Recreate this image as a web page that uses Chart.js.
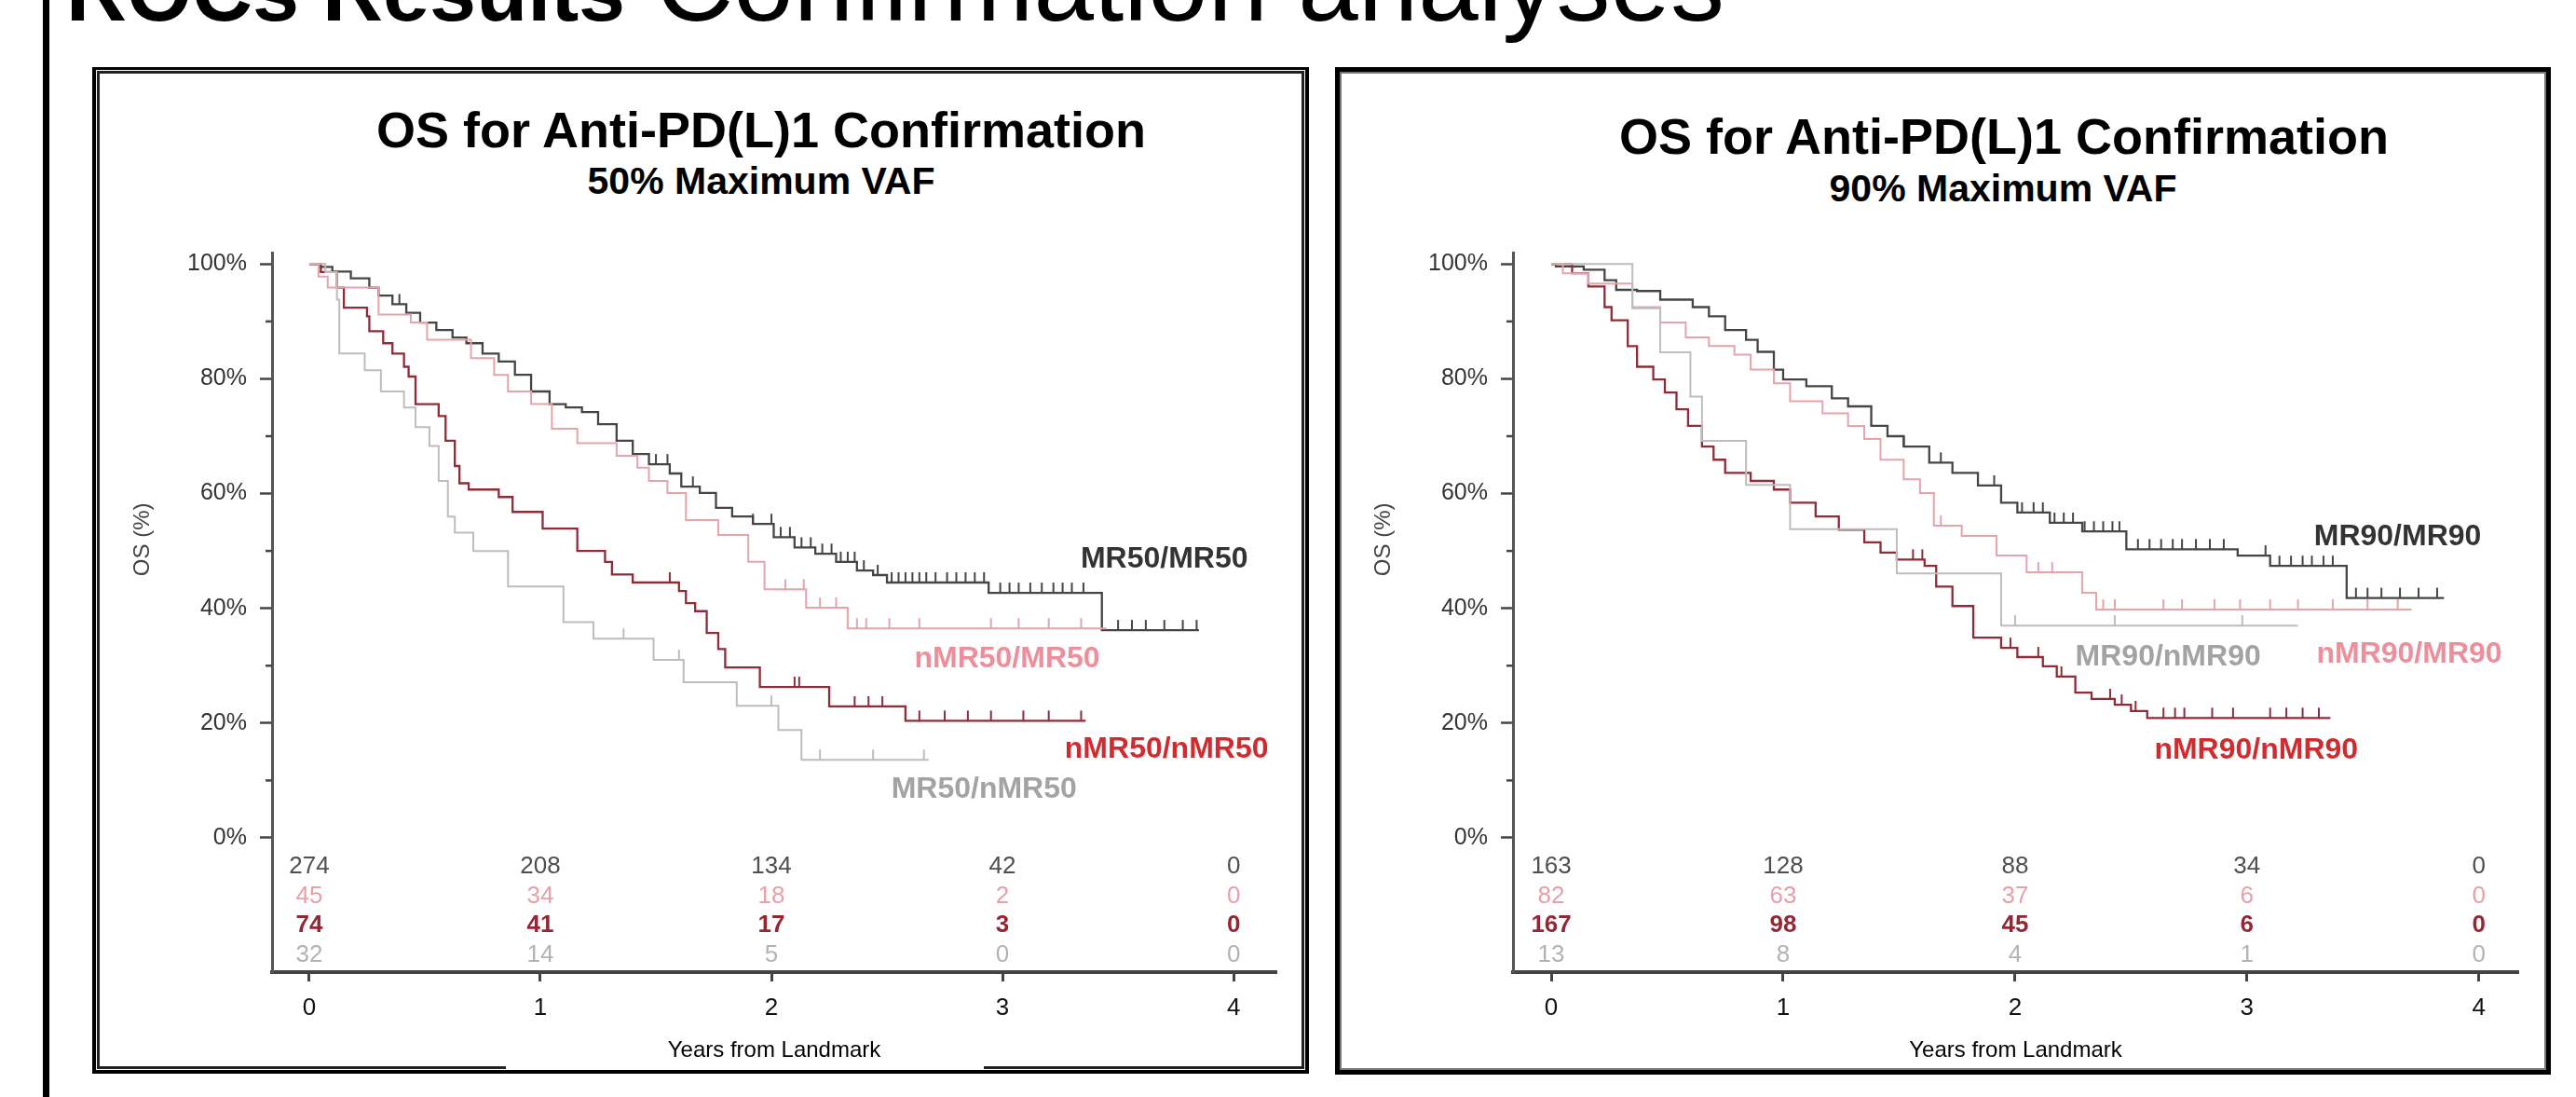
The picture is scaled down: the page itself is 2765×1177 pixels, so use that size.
<!DOCTYPE html>
<html>
<head>
<meta charset="utf-8">
<script src="https://cdn.jsdelivr.net/npm/chart.js@4.4.1/dist/chart.umd.min.js"></script>
<style>
  html, body { margin: 0; padding: 0; background: #fff; }
  body { width: 2765px; height: 1177px; position: relative; overflow: hidden;
         font-family: "Liberation Sans", Arial, sans-serif; color: #000; }
  .abs { position: absolute; box-sizing: border-box; }
  #rule  { left: 46px; top: 0; width: 7px; height: 1177px; background: #000; }
  #head  { left: 71px; top: -76px; font-size: 116px; line-height: 116px; white-space: nowrap; }
  #head b { font-size: 90px; }
  #frameL1 { left: 99px; top: 72px; width: 1306px; height: 1080px; border: 4px solid #000; border-top-width: 3px; }
  #frameL2 { left: 104px; top: 76px; width: 1296px; height: 1071px; border: 3px solid #222; }
  #patchL  { left: 543px; top: 1138px; width: 513px; height: 9px; background: #fff; }
  #frameR  { left: 1433px; top: 72px; width: 1305px; height: 1081px; border: 5px solid #000;
             box-shadow: inset 0 0 0 2px #777; }
  .ttl { position: absolute; font-weight: bold; white-space: nowrap; line-height: 1;
         transform: translateX(-50%); }
  .t1 { font-size: 54px; }
  .t2 { font-size: 41px; }
  canvas { position: absolute; }
</style>
</head>
<body>
<div id="rule" class="abs"></div>
<div id="head" class="abs"><b>ROCs Results</b> Confirmation analyses</div>

<div id="frameL1" class="abs"></div>
<div id="frameL2" class="abs"></div>
<div id="patchL" class="abs"></div>
<div id="frameR" class="abs"></div>

<div class="ttl t1" style="left:817px;top:112px">OS for Anti-PD(L)1 Confirmation</div>
<div class="ttl t2" style="left:817px;top:174px">50% Maximum VAF</div>
<div class="ttl t1" style="left:2151px;top:119px">OS for Anti-PD(L)1 Confirmation</div>
<div class="ttl t2" style="left:2150px;top:182px">90% Maximum VAF</div>

<canvas id="km50" width="1285" height="942" style="left:110px;top:200px"></canvas>
<canvas id="km90" width="1285" height="942" style="left:1445px;top:200px"></canvas>

<script>
/* ---------- axes ---------- */
const YEARS   = [0, 1, 2, 3, 4];
const Y_TICKS = [0, 10, 20, 30, 40, 50, 60, 70, 80, 90, 100];

/* ---------- 50% maximum VAF : time (years), OS (%), censor times ---------- */
const MR50_T = [0, 0.05, 0.10, 0.18, 0.26, 0.30, 0.36, 0.42, 0.48, 0.55, 0.62, 0.68, 0.75, 0.82, 0.89, 0.96, 1.04, 1.11, 1.18, 1.25,
                1.33, 1.40, 1.47, 1.56, 1.61, 1.69, 1.76, 1.83, 1.92, 2.01, 2.10, 2.19, 2.28, 2.37, 2.44, 2.50, 2.94, 3.43, 3.85];
const MR50_S = [100, 99.5, 98.7, 97.5, 95.9, 94.5, 93.0, 91.5, 89.8, 88.5, 87.2, 86.2, 84.4, 83.0, 80.7, 77.8, 75.6, 75.0, 74.2, 72.1,
                69.2, 66.9, 65.1, 63.5, 61.2, 60.1, 57.5, 56.0, 54.7, 52.4, 50.6, 49.5, 48.1, 46.6, 45.8, 44.5, 42.7, 36.2, 36.2];
const MR50_C = [0.39, 1.50, 1.55, 1.66, 1.92, 2.00, 2.04, 2.08, 2.13, 2.17, 2.22, 2.26, 2.30, 2.33, 2.36, 2.40, 2.46, 2.52, 2.55, 2.58,
                2.61, 2.64, 2.67, 2.71, 2.76, 2.80, 2.84, 2.88, 2.92, 2.99, 3.03, 3.07, 3.12, 3.17, 3.22, 3.26, 3.30, 3.35,
                3.50, 3.56, 3.62, 3.70, 3.78, 3.84];

const NMR50_MR50_T = [0, 0.04, 0.08, 0.30, 0.44, 0.51, 0.70, 0.80, 0.86, 0.96, 1.05, 1.16, 1.33, 1.42, 1.47, 1.55, 1.63, 1.77, 1.90, 1.97,
                      2.15, 2.33, 3.45];
const NMR50_MR50_S = [100, 97.8, 95.9, 91.2, 89.8, 86.8, 83.6, 80.7, 77.8, 75.6, 71.3, 68.8, 66.6, 64.5, 62.2, 60.1, 55.4, 52.8, 48.1, 43.3,
                      40.1, 36.5, 36.5];
const NMR50_MR50_C = [2.06, 2.14, 2.21, 2.28, 2.37, 2.41, 2.51, 2.64, 2.95, 3.07, 3.20, 3.34];

const NMR50_T = [0, 0.05, 0.12, 0.15, 0.25, 0.26, 0.32, 0.36, 0.41, 0.43, 0.46, 0.56, 0.59, 0.63, 0.65, 0.69, 0.82, 0.88, 1.01, 1.16,
                 1.28, 1.31, 1.40, 1.60, 1.63, 1.67, 1.72, 1.77, 1.80, 1.95, 2.25, 2.58, 3.36];
const NMR50_S = [100, 98.6, 95.9, 92.4, 90.9, 88.3, 86.2, 84.4, 82.1, 80.4, 75.6, 73.5, 69.2, 64.8, 61.8, 60.7, 59.4, 56.8, 53.9, 50.0,
                 48.1, 45.9, 44.5, 43.0, 40.9, 39.5, 35.7, 32.9, 29.7, 26.3, 22.9, 20.4, 20.4];
const NMR50_C = [1.56, 2.10, 2.12, 2.36, 2.42, 2.48, 2.64, 2.75, 2.85, 2.95, 3.09, 3.20, 3.34];

const MR50_NMR50_T = [0, 0.07, 0.12, 0.13, 0.24, 0.31, 0.41, 0.46, 0.52, 0.56, 0.60, 0.63, 0.71, 0.86, 1.10, 1.23, 1.49, 1.62, 1.85, 2.03,
                      2.13, 2.68];
const MR50_NMR50_S = [100, 98.6, 93.8, 84.4, 81.5, 77.8, 75.0, 71.6, 68.3, 62.2, 56.0, 53.2, 50.0, 43.8, 37.6, 34.7, 31.0, 27.1, 23.0, 18.8,
                      13.6, 13.6];
const MR50_NMR50_C = [1.36, 1.60, 2.00, 2.21, 2.44, 2.66];

/* ---------- 90% maximum VAF ---------- */
const MR90_T = [0, 0.02, 0.14, 0.23, 0.28, 0.37, 0.47, 0.61, 0.68, 0.75, 0.84, 0.89, 0.96, 1.00, 1.10, 1.21, 1.28, 1.38, 1.45, 1.52,
                1.63, 1.73, 1.84, 1.94, 2.01, 2.15, 2.29, 2.48, 2.96, 3.10, 3.43, 3.85];
const MR90_S = [100, 99.6, 99.0, 97.2, 95.5, 95.3, 93.8, 92.5, 90.9, 88.5, 86.8, 84.7, 81.6, 79.9, 78.7, 76.6, 75.2, 71.8, 70.0, 68.2,
                65.4, 63.6, 61.4, 58.4, 56.7, 54.9, 53.4, 50.3, 49.2, 47.4, 41.8, 41.8];
const MR90_C = [1.52, 1.68, 1.91, 2.03, 2.08, 2.12, 2.17, 2.21, 2.25, 2.30, 2.34, 2.38, 2.42, 2.45, 2.53, 2.58, 2.63, 2.68, 2.72, 2.78,
                2.84, 2.90, 3.08, 3.14, 3.19, 3.24, 3.28, 3.33, 3.37, 3.47, 3.52, 3.58, 3.66, 3.74, 3.82];

const NMR90_MR90_T = [0, 0.05, 0.16, 0.35, 0.47, 0.58, 0.68, 0.79, 0.86, 0.96, 1.03, 1.17, 1.28, 1.35, 1.42, 1.52, 1.59, 1.65, 1.77, 1.92,
                      2.05, 2.29, 2.35, 3.71];
const NMR90_MR90_S = [100, 98.4, 96.6, 92.5, 89.8, 87.2, 85.7, 84.2, 81.6, 79.2, 76.1, 74.0, 71.8, 69.5, 65.9, 62.5, 60.1, 54.4, 52.6, 49.2,
                      46.3, 42.7, 39.8, 39.8];
const NMR90_MR90_C = [1.68, 2.10, 2.16, 2.38, 2.43, 2.64, 2.72, 2.86, 2.97, 3.10, 3.22, 3.37, 3.52, 3.65];

const NMR90_T = [0, 0.09, 0.16, 0.23, 0.26, 0.33, 0.37, 0.44, 0.49, 0.54, 0.59, 0.65, 0.70, 0.75, 0.86, 0.96, 1.03, 1.14, 1.24, 1.35,
                 1.42, 1.49, 1.61, 1.66, 1.73, 1.82, 1.94, 2.01, 2.12, 2.18, 2.26, 2.33, 2.43, 2.50, 2.57, 3.36];
const NMR90_S = [100, 98.4, 96.1, 92.5, 90.2, 85.7, 82.1, 79.9, 77.6, 74.7, 71.8, 68.2, 65.9, 63.6, 62.2, 60.7, 58.4, 56.0, 53.7, 51.5,
                 49.7, 48.5, 47.4, 43.8, 40.4, 34.9, 33.1, 31.5, 29.9, 28.1, 25.3, 24.2, 23.2, 22.1, 20.9, 20.9];
const NMR90_C = [1.56, 1.60, 1.98, 2.10, 2.20, 2.41, 2.46, 2.52, 2.64, 2.69, 2.73, 2.85, 2.94, 3.10, 3.17, 3.24, 3.31];

const MR90_NMR90_T = [0, 0.35, 0.47, 0.60, 0.65, 0.84, 1.03, 1.49, 1.94, 3.22];
const MR90_NMR90_S = [100, 92.3, 84.6, 76.9, 69.2, 61.5, 53.8, 46.1, 37.0, 37.0];
const MR90_NMR90_C = [2.00, 2.43, 2.98];

/* ---------- numbers at risk ---------- */
const RISK50_MRMR   = [274, 208, 134, 42, 0];
const RISK50_NMRMR  = [45, 34, 18, 2, 0];
const RISK50_NMRNMR = [74, 41, 17, 3, 0];
const RISK50_MRNMR  = [32, 14, 5, 0, 0];
const RISK90_MRMR   = [163, 128, 88, 34, 0];
const RISK90_NMRMR  = [82, 63, 37, 6, 0];
const RISK90_NMRNMR = [167, 98, 45, 6, 0];
const RISK90_MRNMR  = [13, 8, 4, 1, 0];

/* ---------- styles ---------- */
const FONT = '"Liberation Sans", Arial, sans-serif';
const LINE  = { mrmr: '#454545', nmrmr: '#e6a3aa', nmrnmr: '#8e2c38', mrnmr: '#bdbdbd' };
const LABEL = { mrmr: '#333333', nmrmr: '#ec8f9b', nmrnmr: '#d22b2f', mrnmr: '#a3a3a3' };
const RISK  = { mrmr: '#4f4f4f', nmrmr: '#e7a0a8', nmrnmr: '#962634', mrnmr: '#b3b3b3' };
const RISK_ROWS = { mrmr: -5.0, nmrmr: -10.2, nmrnmr: -15.3, mrnmr: -20.5 };   // row height in y units

const PANELS = [
  { id: 'km50', xMin: -0.161, xMax: 4.185, yAxisW: 182, padRight: 25,
    groups: [
      { key: 'mrnmr',  name: 'MR50/nMR50',  t: MR50_NMR50_T, s: MR50_NMR50_S, c: MR50_NMR50_C, risk: RISK50_MRNMR,  at: [2.92, 8.4] },
      { key: 'nmrmr',  name: 'nMR50/MR50',  t: NMR50_MR50_T, s: NMR50_MR50_S, c: NMR50_MR50_C, risk: RISK50_NMRMR,  at: [3.02, 31.2] },
      { key: 'nmrnmr', name: 'nMR50/nMR50', t: NMR50_T,      s: NMR50_S,      c: NMR50_C,      risk: RISK50_NMRNMR, at: [3.71, 15.4] },
      { key: 'mrmr',   name: 'MR50/MR50',   t: MR50_T,       s: MR50_S,       c: MR50_C,       risk: RISK50_MRMR,   at: [3.70, 48.5] }
    ] },
  { id: 'km90', xMin: -0.165, xMax: 4.17, yAxisW: 179, padRight: 27,
    groups: [
      { key: 'mrnmr',  name: 'MR90/nMR90',  t: MR90_NMR90_T, s: MR90_NMR90_S, c: MR90_NMR90_C, risk: RISK90_MRNMR,  at: [2.66, 31.5] },
      { key: 'nmrmr',  name: 'nMR90/MR90',  t: NMR90_MR90_T, s: NMR90_MR90_S, c: NMR90_MR90_C, risk: RISK90_NMRMR,  at: [3.70, 32.0] },
      { key: 'nmrnmr', name: 'nMR90/nMR90', t: NMR90_T,      s: NMR90_S,      c: NMR90_C,      risk: RISK90_NMRNMR, at: [3.04, 15.3] },
      { key: 'mrmr',   name: 'MR90/MR90',   t: MR90_T,       s: MR90_S,       c: MR90_C,       risk: RISK90_MRMR,   at: [3.65, 52.4] }
    ] }
];

/* ---------- helpers ---------- */
const toPoints = (t, s) => t.map((x, i) => ({ x, y: s[i] }));
function survAt (t, s, x) {
  let v = s[0];
  for (let i = 0; i < t.length; i++) if (t[i] <= x) v = s[i];
  return v;
}
const censorPoints = (g) => g.c.map(x => ({ x, y: survAt(g.t, g.s, x) }));

/* censor mark: short vertical stroke rising above the curve */
function censorMark (color) {
  const c = document.createElement('canvas');
  c.width = 4; c.height = 24;
  const g = c.getContext('2d');
  g.strokeStyle = color;
  g.lineWidth = 2;
  g.beginPath(); g.moveTo(2, 1); g.lineTo(2, 12); g.stroke();
  return c;
}

/* risk table, minor y ticks, y title and group labels */
const kmExtras = {
  id: 'kmExtras',
  afterDatasetsDraw (chart, args, opts) {
    const { ctx, chartArea, scales: { x, y } } = chart;
    ctx.save();

    ctx.strokeStyle = '#444';
    ctx.lineWidth = 2.5;
    Y_TICKS.filter(v => v % 20).forEach(v => {
      const py = y.getPixelForValue(v);
      ctx.beginPath(); ctx.moveTo(chartArea.left - 7, py); ctx.lineTo(chartArea.left, py); ctx.stroke();
    });

    ctx.textAlign = 'center';
    ctx.textBaseline = 'middle';

    ctx.save();
    ctx.translate(chartArea.left - 139, y.getPixelForValue(52));
    ctx.rotate(-Math.PI / 2);
    ctx.font = `24px ${FONT}`;
    ctx.fillStyle = '#444';
    ctx.fillText('OS (%)', 0, 0);
    ctx.restore();

    opts.groups.forEach(g => {
      ctx.font = `${g.key === 'nmrnmr' ? 'bold ' : ''}26px ${FONT}`;
      ctx.fillStyle = RISK[g.key];
      g.risk.forEach((n, i) => {
        ctx.fillText(String(n), x.getPixelForValue(YEARS[i]), y.getPixelForValue(RISK_ROWS[g.key]));
      });
      ctx.font = `bold 32px ${FONT}`;
      ctx.fillStyle = LABEL[g.key];
      ctx.fillText(g.name, x.getPixelForValue(g.at[0]), y.getPixelForValue(g.at[1]));
    });
    ctx.restore();
  }
};

function createChart (p) {
  const datasets = [];
  p.groups.forEach(g => {
    datasets.push({
      data: toPoints(g.t, g.s), stepped: true, borderColor: LINE[g.key],
      borderWidth: g.key === 'nmrmr' || g.key === 'mrnmr' ? 2 : 2.3,
      pointRadius: 0, fill: false
    });
    datasets.push({
      data: censorPoints(g), showLine: false, pointStyle: censorMark(LINE[g.key]),
      pointRadius: 6, borderColor: LINE[g.key]
    });
  });

  new Chart(document.getElementById(p.id), {
    type: 'line',
    data: { datasets },
    options: {
      responsive: false,
      animation: false,
      layout: { padding: { top: 71, right: p.padRight, bottom: 0, left: 0 } },
      scales: {
        x: {
          type: 'linear', min: p.xMin, max: p.xMax,
          afterBuildTicks: s => { s.ticks = YEARS.map(v => ({ value: v })); },
          afterFit: s => { s.height = 99; },
          ticks: { font: { family: FONT, size: 26 }, color: '#111', padding: 13 },
          grid: { drawOnChartArea: false, tickLength: 10, tickWidth: 3, tickColor: '#444' },
          border: { color: '#444', width: 4 },
          title: { display: true, text: 'Years from Landmark', color: '#000',
                   font: { family: FONT, size: 24 }, padding: 0 }
        },
        y: {
          type: 'linear', min: -23.4, max: 102,
          afterBuildTicks: s => { s.ticks = Y_TICKS.map(v => ({ value: v })); },
          afterFit: s => { s.width = p.yAxisW; },
          ticks: { callback: v => (v % 20 === 0 ? v + '%' : ''),
                   font: { family: FONT, size: 25 }, color: '#333', padding: 14 },
          grid: { drawOnChartArea: false, tickLength: 13, tickWidth: 2.5,
                  tickColor: c => (c.tick && c.tick.value % 20 ? 'rgba(0,0,0,0)' : '#444') },
          border: { color: '#555', width: 3 }
        }
      },
      plugins: {
        legend: { display: false },
        tooltip: { enabled: false },
        kmExtras: { groups: p.groups }
      }
    },
    plugins: [kmExtras]
  });
}

PANELS.forEach(createChart);
</script>
</body>
</html>
